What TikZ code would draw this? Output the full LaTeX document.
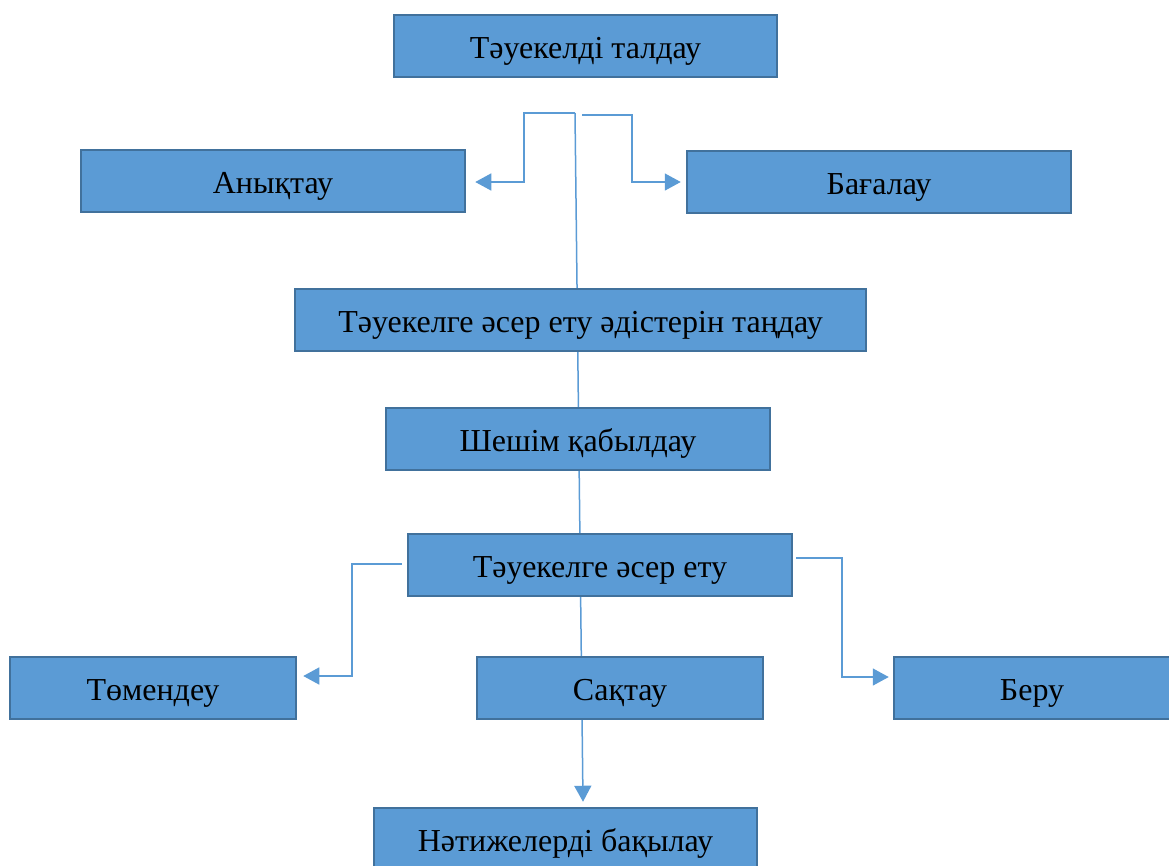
\documentclass[tikz,border=0pt]{standalone}
\usepackage{fontspec}
\setmainfont{Liberation Serif}
\usetikzlibrary{arrows.meta}
\pgfdeclarelayer{background}
\pgfsetlayers{background,main}
\definecolor{boxfill}{HTML}{5B9BD5}
\definecolor{boxline}{HTML}{41719C}
\definecolor{conncol}{HTML}{5B9BD5}
\begin{document}
\begin{tikzpicture}[x=1pt,y=-1pt,
  box/.style={draw=boxline, fill=boxfill, line width=2.5pt, minimum height=62pt, inner sep=0pt, text height=24pt, text depth=0pt, font=\fontsize{32}{36}\selectfont, text=black},
  conn/.style={draw=conncol, line width=1.5pt, -{Triangle[length=16pt,width=17pt]}}]
\useasboundingbox (0,0) rectangle (1169,865);
\node[box, minimum width=383pt] (b1) at (585.5,46) {Тәуекелді талдау};
\node[box, minimum width=384pt] (b2) at (273,181) {Анықтау};
\node[box, minimum width=384pt] (b3) at (879,182) {Бағалау};
\node[box, minimum width=571pt] (b4) at (580.5,320) {Тәуекелге әсер ету әдістерін таңдау};
\node[box, minimum width=384pt] (b5) at (578,439) {Шешім қабылдау};
\node[box, minimum width=384pt] (b6) at (600,565) {Тәуекелге әсер ету};
\node[box, minimum width=286pt] (b7) at (153,688) {Төмендеу};
\node[box, minimum width=286pt] (b8) at (620,688) {Сақтау};
\node[box, minimum width=276pt] (b9) at (1032,688) {Беру};
\node[box, minimum width=383pt] (b10) at (565.5,839) {Нәтижелерді бақылау};
\coordinate (s0) at (575,113);
\coordinate (s1) at (582,115);
\begin{pgfonlayer}{background}
\draw[conn] (s0) -- ([xshift=17.5pt,yshift=5pt]b10.north);
\draw[conn] (s0) -- (524,113) -- (524,182) -- ([xshift=9pt,yshift=-1pt]b2.east);
\draw[conn] (s1) -- (632,115) -- (632,182) -- ([xshift=-5pt]b3.west);
\draw[conn] ([xshift=-5pt,yshift=1pt]b6.west) -- (352,564) -- (352,676) -- ([xshift=6pt,yshift=12pt]b7.east);
\draw[conn] ([xshift=3pt,yshift=7pt]b6.east) -- (842,558) -- (842,677) -- ([xshift=-4pt,yshift=11pt]b9.west);
\end{pgfonlayer}
\end{tikzpicture}
\end{document}
